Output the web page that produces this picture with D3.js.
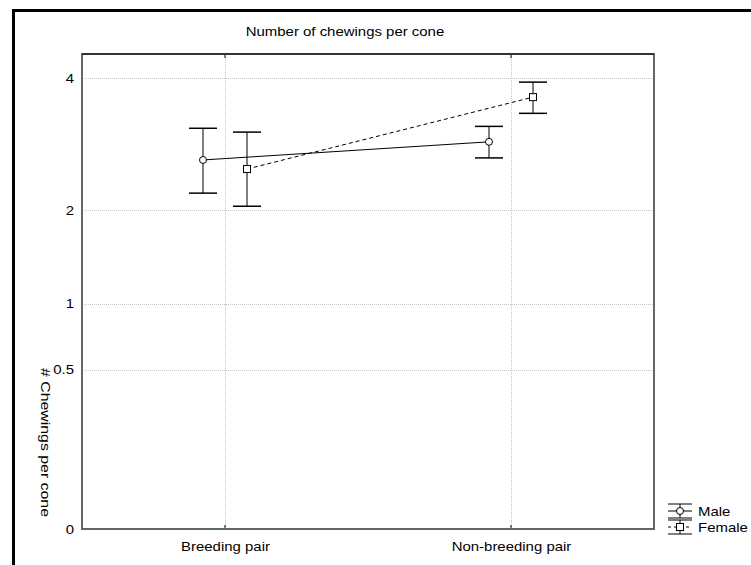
<!DOCTYPE html>
<html>
<head>
<meta charset="utf-8">
<script src="https://cdn.jsdelivr.net/npm/d3@7"></script>
<style>
  body { margin: 0; background: #fff; }
  svg { display: block; font-family: Arial, "Liberation Sans", sans-serif; }
</style>
</head>
<body>
<svg id="chart" width="751" height="565"></svg>
<script>
// data
const categories = ["Breeding pair", "Non-breeding pair"];
const seriesNames = ["Male", "Female"];
const maleMean = [2.68, 2.95];
const maleLow = [2.22, 2.71];
const maleHigh = [3.16, 3.19];
const femaleMean = [2.55, 3.67];
const femaleLow = [2.05, 3.40];
const femaleHigh = [3.10, 3.93];
const yTicks = [0, 0.5, 1, 2, 4];

const svg = d3.select("#chart");
const stretch = "scale(1.15,1)";

const margin = {top: 54, right: 97, bottom: 36, left: 82},
  width = 751 - margin.left - margin.right,
  height = 565 - margin.top - margin.bottom;

// outer frame
svg.append("rect")
  .attr("x", 13.5).attr("y", 10.5)
  .attr("width", 800).attr("height", 600)
  .attr("fill", "none")
  .attr("stroke", "#000")
  .attr("stroke-width", 3);

svg.append("text")
  .attr("transform", "translate(345,36) " + stretch)
  .attr("text-anchor", "middle")
  .style("font-size", "13px")
  .text("Number of chewings per cone");

const g = svg.append("g")
  .attr("transform", "translate(" + margin.left + "," + margin.top + ")");

// y is a square root scale
const y = d3.scaleSqrt().domain([0, 4.44]).range([height, 0]);
const x = d3.scalePoint().domain(categories).range([0, width]).padding(0.5);
const offset = 22;

// grid
g.selectAll(".hgrid")
  .data(yTicks.filter(d => d > 0))
  .enter().append("line")
  .attr("x1", 0).attr("x2", width)
  .attr("y1", d => Math.round(y(d)) + 0.5).attr("y2", d => Math.round(y(d)) + 0.5)
  .attr("stroke", "#c4c4c4")
  .attr("stroke-dasharray", "1,1");

g.selectAll(".vgrid")
  .data(categories)
  .enter().append("line")
  .attr("x1", d => Math.round(x(d)) + 0.5).attr("x2", d => Math.round(x(d)) + 0.5)
  .attr("y1", 0).attr("y2", height)
  .attr("stroke", "#c4c4c4")
  .attr("stroke-dasharray", "1,1");

// y-axis
const yAxis = d3.axisLeft(y).tickValues(yTicks).tickSize(0).tickPadding(7)
  .tickFormat(d3.format("~g"));
g.append("g").call(yAxis)
  .call(a => a.select(".domain").remove())
  .selectAll("text")
  .attr("transform", stretch)
  .style("font-size", "13px")
  .attr("fill", "#000");

// x-axis
const xAxis = d3.axisBottom(x).tickSize(0).tickPadding(13);
g.append("g")
  .attr("transform", "translate(0," + height + ")")
  .call(xAxis)
  .call(a => a.select(".domain").remove())
  .selectAll("text")
  .attr("transform", stretch)
  .style("font-size", "13px")
  .attr("fill", "#000");

// small ticks at top and bottom
categories.forEach(c => {
  g.append("line").attr("x1", x(c)).attr("x2", x(c)).attr("y1", 0).attr("y2", 4)
    .attr("stroke", "#000");
  g.append("line").attr("x1", x(c)).attr("x2", x(c)).attr("y1", height).attr("y2", height - 4)
    .attr("stroke", "#000");
});

// plot border
g.append("rect")
  .attr("x", 0).attr("y", 0)
  .attr("width", width).attr("height", height)
  .attr("fill", "none")
  .attr("stroke", "#666")
  .attr("stroke-width", 2);
g.append("line").attr("x1", 0).attr("x2", width).attr("y1", 0).attr("y2", 0)
  .attr("stroke", "#000");

// y label
svg.append("text")
  .attr("transform", "translate(41,368) rotate(90) scale(1.22,1)")
  .style("font-size", "13px")
  .text("# Chewings per cone");

const series = [
  {name: seriesNames[0], mean: maleMean, low: maleLow, high: maleHigh, dx: -offset, dash: null, shape: "circle"},
  {name: seriesNames[1], mean: femaleMean, low: femaleLow, high: femaleHigh, dx: offset, dash: "4,3", shape: "square"}
];

series.forEach(s => {
  const pts = categories.map((c, i) => ({
    x: x(c) + s.dx, m: s.mean[i], lo: s.low[i], hi: s.high[i]
  }));

  g.append("path")
    .datum(pts)
    .attr("fill", "none")
    .attr("stroke", "#000")
    .attr("stroke-dasharray", s.dash)
    .attr("d", d3.line().x(d => d.x).y(d => y(d.m)));

  const eb = g.selectAll(null).data(pts).enter().append("g");
  eb.append("line")
    .attr("x1", d => d.x).attr("x2", d => d.x)
    .attr("y1", d => y(d.lo)).attr("y2", d => y(d.hi))
    .attr("stroke", "#000");
  eb.append("line")
    .attr("x1", d => d.x - 14).attr("x2", d => d.x + 14)
    .attr("y1", d => y(d.hi)).attr("y2", d => y(d.hi))
    .attr("stroke", "#000").attr("stroke-width", 1.5);
  eb.append("line")
    .attr("x1", d => d.x - 14).attr("x2", d => d.x + 14)
    .attr("y1", d => y(d.lo)).attr("y2", d => y(d.lo))
    .attr("stroke", "#000").attr("stroke-width", 1.5);

  if (s.shape === "circle") {
    eb.append("circle")
      .attr("cx", d => d.x).attr("cy", d => y(d.m)).attr("r", 3.5)
      .attr("fill", "#fff").attr("stroke", "#000");
  } else {
    eb.append("rect")
      .attr("x", d => d.x - 3.5).attr("y", d => y(d.m) - 3.5)
      .attr("width", 7).attr("height", 7)
      .attr("fill", "#fff").attr("stroke", "#000");
  }
});

// legend
const legend = svg.append("g").attr("transform", "translate(680,511)");
series.forEach((s, i) => {
  const lg = legend.append("g").attr("transform", "translate(0," + (i * 16) + ")");
  lg.append("line").attr("x1", -12).attr("x2", 12).attr("y1", -7).attr("y2", -7).attr("stroke", "#000");
  lg.append("line").attr("x1", -12).attr("x2", 12).attr("y1", 7).attr("y2", 7).attr("stroke", "#000");
  lg.append("line").attr("x1", 0).attr("x2", 0).attr("y1", -7).attr("y2", 7).attr("stroke", "#000");
  lg.append("line").attr("x1", -12).attr("x2", 12).attr("y1", 0).attr("y2", 0)
    .attr("stroke", "#000").attr("stroke-dasharray", s.dash ? "3,3" : null);
  if (s.shape === "circle") {
    lg.append("circle").attr("r", 3.5).attr("fill", "#fff").attr("stroke", "#000");
  } else {
    lg.append("rect").attr("x", -3.5).attr("y", -3.5).attr("width", 7).attr("height", 7)
      .attr("fill", "#fff").attr("stroke", "#000");
  }
  lg.append("text").attr("transform", "translate(18,5) " + stretch)
    .style("font-size", "13px")
    .text(s.name);
});
</script>
</body>
</html>
